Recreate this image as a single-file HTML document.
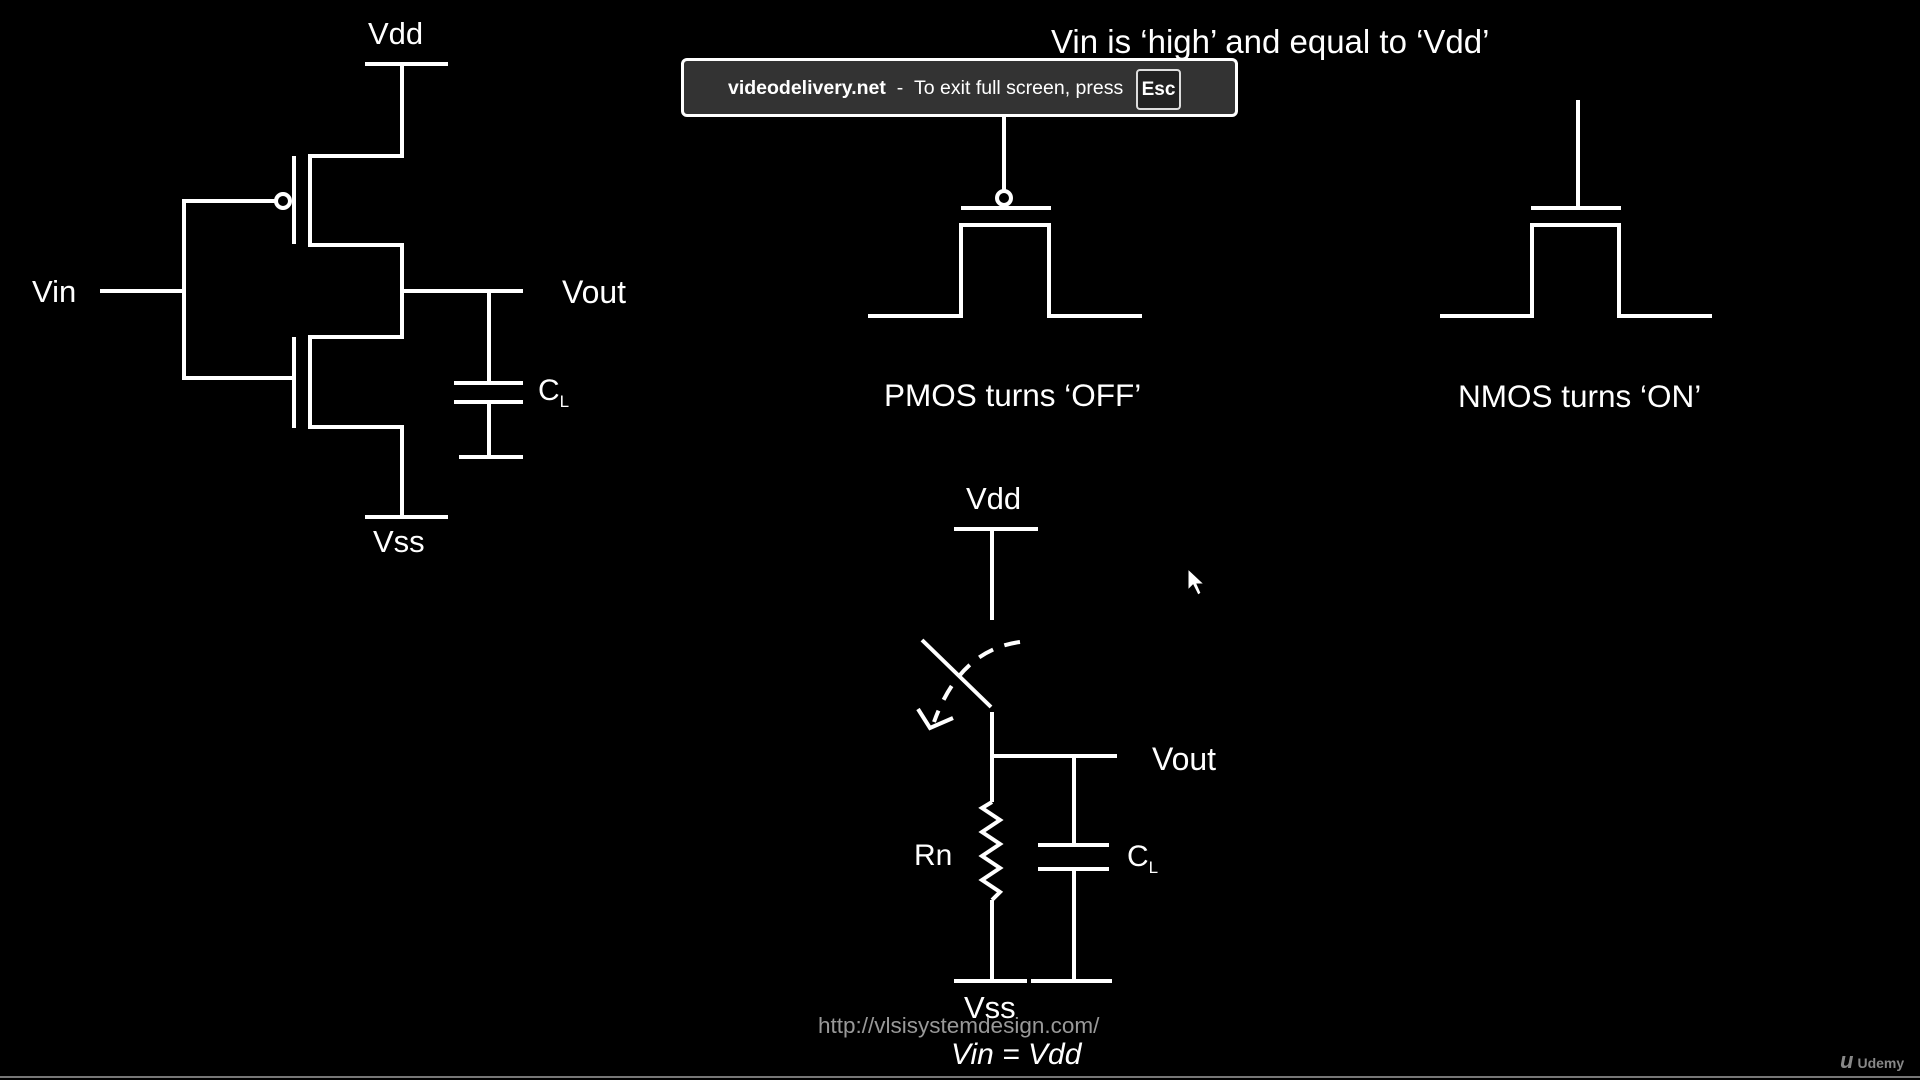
<!DOCTYPE html>
<html><head><meta charset="utf-8"><style>
html,body{margin:0;padding:0;background:#000;}
body{width:1920px;height:1080px;position:relative;overflow:hidden;font-family:"Liberation Sans",sans-serif;}
svg{position:absolute;left:0;top:0;}
.t{position:absolute;color:#fff;white-space:nowrap;}
</style></head><body>
<svg width="1920" height="1080" viewBox="0 0 1920 1080">
<g stroke="#fff" stroke-width="4" fill="none" stroke-linecap="butt">
<line x1="365" y1="64" x2="448" y2="64"/>
<polyline points="402,64 402,156 310,156 310,245 402,245 402,337 310,337 310,427 402,427 402,517"/>
<line x1="365" y1="517" x2="448" y2="517"/>
<line x1="294" y1="156" x2="294" y2="244"/>
<line x1="294" y1="337" x2="294" y2="428"/>
<circle cx="283" cy="201" r="7"/>
<polyline points="276,201 184,201 184,378 294,378"/>
<line x1="100" y1="291" x2="184" y2="291"/>
<line x1="402" y1="291" x2="523" y2="291"/>
<line x1="489" y1="291" x2="489" y2="383"/>
<line x1="454" y1="383" x2="523" y2="383"/>
<line x1="454" y1="402" x2="523" y2="402"/>
<line x1="489" y1="402" x2="489" y2="457"/>
<line x1="459" y1="457" x2="523" y2="457"/>
<line x1="1004" y1="116" x2="1004" y2="191"/>
<circle cx="1004" cy="198" r="7"/>
<line x1="961" y1="208" x2="1051" y2="208"/>
<polyline points="868,316 961,316 961,225 1049,225 1049,316 1142,316"/>
<line x1="1578" y1="100" x2="1578" y2="208"/>
<line x1="1531" y1="208" x2="1621" y2="208"/>
<polyline points="1440,316 1532,316 1532,225 1619,225 1619,316 1712,316"/>
<line x1="954" y1="529" x2="1038" y2="529"/>
<line x1="992" y1="529" x2="992" y2="620"/>
<line x1="922" y1="640" x2="991" y2="707"/>
<path d="M1020,642 Q960,650 934,722" stroke-dasharray="16,12"/>
<polyline points="918,709 930,728 953,718"/>
<line x1="992" y1="712" x2="992" y2="802"/>
<polyline points="992,802 982,808 1000,820 982,832 1000,844 982,856 1000,868 982,880 1000,892 992,900"/>
<line x1="992" y1="900" x2="992" y2="981"/>
<line x1="992" y1="756" x2="1117" y2="756"/>
<line x1="1074" y1="756" x2="1074" y2="845"/>
<line x1="1038" y1="845" x2="1109" y2="845"/>
<line x1="1038" y1="869" x2="1109" y2="869"/>
<line x1="1074" y1="869" x2="1074" y2="981"/>
<line x1="954" y1="981" x2="1027" y2="981"/>
<line x1="1031" y1="981" x2="1112" y2="981"/>
</g>
<path d="M1188,569 L1188,590 L1193,585 L1198,595 L1201,593 L1197,584 L1204,584 Z" fill="#fff" stroke="#000" stroke-width="1"/>
<line x1="0" y1="1077" x2="1920" y2="1077" stroke="#777" stroke-width="2"/>
</svg>
<div class="t" style="left:368px;top:16px;font-size:31px;">Vdd</div>
<div class="t" style="left:32px;top:274px;font-size:31px;">Vin</div>
<div class="t" style="left:562px;top:274px;font-size:32px;">Vout</div>
<div class="t" style="left:538px;top:374px;font-size:30px;">C<sub style="font-size:17px;">L</sub></div>
<div class="t" style="left:373px;top:524px;font-size:31px;">Vss</div>
<div class="t" style="left:1051px;top:23px;font-size:33px;">Vin is ‘high’ and equal to ‘Vdd’</div>
<div class="t" style="left:884px;top:377px;font-size:31.5px;">PMOS turns ‘OFF’</div>
<div class="t" style="left:1458px;top:378px;font-size:31.5px;">NMOS turns ‘ON’</div>
<div class="t" style="left:966px;top:481px;font-size:31px;">Vdd</div>
<div class="t" style="left:1152px;top:741px;font-size:32px;">Vout</div>
<div class="t" style="left:914px;top:839px;font-size:30px;">Rn</div>
<div class="t" style="left:1127px;top:840px;font-size:30px;">C<sub style="font-size:17px;">L</sub></div>
<div class="t" style="left:964px;top:990px;font-size:31px;">Vss</div>
<div class="t" style="left:818px;top:1013px;font-size:22.5px;color:#999;">http://vlsisystemdesign.com/</div>
<div class="t" style="left:951px;top:1038px;font-size:30px;font-style:italic;">Vin = Vdd</div>
<div class="t" style="left:1840px;top:1048px;font-size:14px;color:#888;font-weight:bold;"><span style="font-size:22px;font-style:italic;margin-right:4px;">u</span>Udemy</div>
<div style="position:absolute;left:681px;top:58px;width:551px;height:53px;background:#333;border:3px solid #fff;border-radius:6px;"></div>
<div class="t" style="left:728px;top:77px;font-size:19.5px;"><b>videodelivery.net</b>&nbsp; - &nbsp;To exit full screen, press</div>
<div style="position:absolute;left:1136px;top:69px;width:41px;height:37px;border:2px solid #ddd;border-radius:4px;background:#222;color:#fff;font-weight:bold;font-size:19px;line-height:37px;text-align:center;">Esc</div>
</body></html>
